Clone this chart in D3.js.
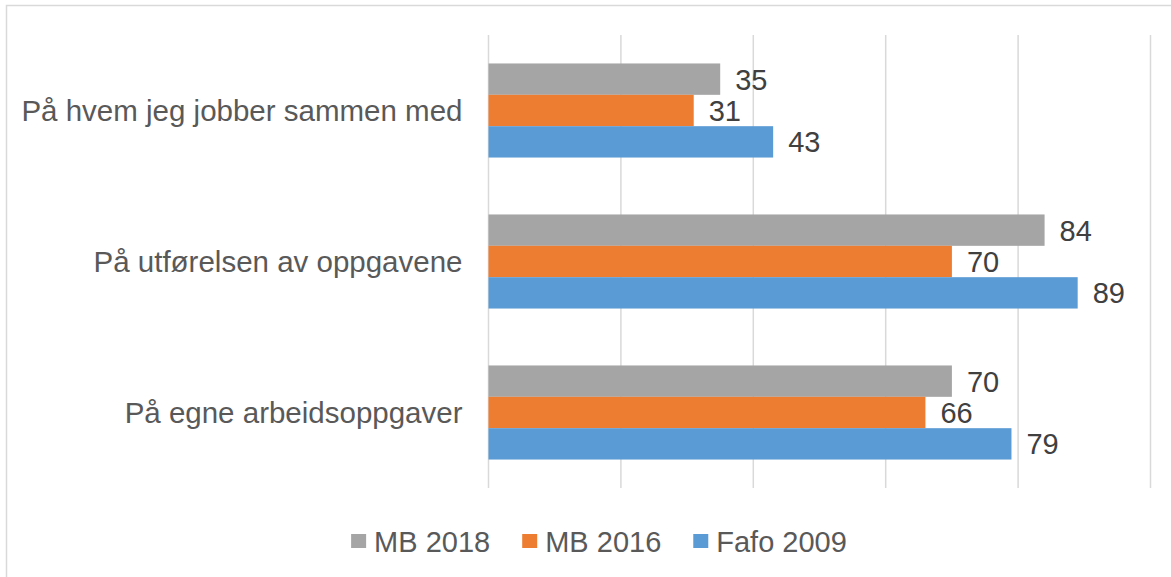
<!DOCTYPE html>
<html>
<head>
<meta charset="utf-8">
<script src="https://cdn.jsdelivr.net/npm/d3@7"></script>
<style>
  html, body { margin: 0; padding: 0; background: #fff; }
  svg { display: block; font-family: "Liberation Sans", Arial, sans-serif; }
</style>
</head>
<body>
<div id="chart"></div>
<script>
const categories = [
    "På hvem jeg jobber sammen med",
    "På utførelsen av oppgavene",
    "På egne arbeidsoppgaver"
];
const seriesNames = ["MB 2018", "MB 2016", "Fafo 2009"];
const seriesColors = ["#a5a5a5", "#ed7d31", "#5b9bd5"];
const mb2018 = [35, 84, 70];
const mb2016 = [31, 70, 66];
const fafo2009 = [43, 89, 79];
const xTicks = [0, 20, 40, 60, 80, 100];

const seriesValues = [mb2018, mb2016, fafo2009];
const textColor = "#595959";

const width = 1171, height = 577;
const margin = { top: 35, left: 488.5, right: 20.5, bottom: 89 };

const svg = d3.select("#chart").append("svg")
    .attr("width", width)
    .attr("height", height);

// outer chart border (runs off the right/bottom edge)
svg.append("rect")
    .attr("x", 6.5).attr("y", 5.5)
    .attr("width", 1200).attr("height", 600)
    .attr("fill", "none")
    .attr("stroke", "#d9d9d9")
    .attr("stroke-width", 1.5);

const x = d3.scaleLinear()
    .domain([0, 100])
    .range([margin.left, width - margin.right]);

const y0 = d3.scaleBand()
    .domain(categories)
    .range([margin.top, height - margin.bottom])
    .paddingInner(0.377)
    .paddingOuter(0.1885);

const y1 = d3.scaleBand()
    .domain(d3.range(seriesNames.length))
    .range([0, y0.bandwidth()]);

// gridlines
svg.append("g")
    .selectAll("line")
    .data(xTicks)
    .join("line")
    .attr("x1", d => x(d)).attr("x2", d => x(d))
    .attr("y1", margin.top).attr("y2", height - margin.bottom)
    .attr("stroke", "#d9d9d9")
    .attr("stroke-width", 1.5);

// bars
const groups = svg.append("g")
    .selectAll("g")
    .data(categories)
    .join("g")
    .attr("transform", c => `translate(0,${y0(c)})`);

groups.selectAll("rect")
    .data((c, ci) => seriesValues.map((vals, si) => ({ si, v: vals[ci] })))
    .join("rect")
    .attr("x", x(0))
    .attr("y", d => y1(d.si))
    .attr("width", d => x(d.v) - x(0))
    .attr("height", y1.bandwidth())
    .attr("fill", d => seriesColors[d.si]);

groups.selectAll("text")
    .data((c, ci) => seriesValues.map((vals, si) => ({ si, v: vals[ci] })))
    .join("text")
    .attr("x", d => x(d.v) + 15)
    .attr("y", d => y1(d.si) + y1.bandwidth() / 2)
    .attr("dy", "0.36em")
    .attr("font-size", 29)
    .attr("fill", "#404040")
    .text(d => d.v);

// category labels
svg.append("g")
    .selectAll("text")
    .data(categories)
    .join("text")
    .attr("x", margin.left - 26)
    .attr("y", c => y0(c) + y0.bandwidth() / 2)
    .attr("dy", "0.36em")
    .attr("text-anchor", "end")
    .attr("font-size", 29.5)
    .attr("fill", textColor)
    .text(c => c);

// legend
const legend = svg.append("g");
let lx = 0;
seriesNames.forEach((name, i) => {
    const item = legend.append("g").attr("transform", `translate(${lx},0)`);
    item.append("rect")
        .attr("x", 0).attr("y", 534)
        .attr("width", 15).attr("height", 14)
        .attr("fill", seriesColors[i]);
    const t = item.append("text")
        .attr("x", 23).attr("y", 551.5)
        .attr("font-size", 29)
        .attr("fill", textColor)
        .text(name);
    lx += 23 + t.node().getComputedTextLength() + 32;
});
const legendWidth = lx - 32;
legend.attr("transform", `translate(${599 - legendWidth / 2},0)`);
</script>
</body>
</html>
